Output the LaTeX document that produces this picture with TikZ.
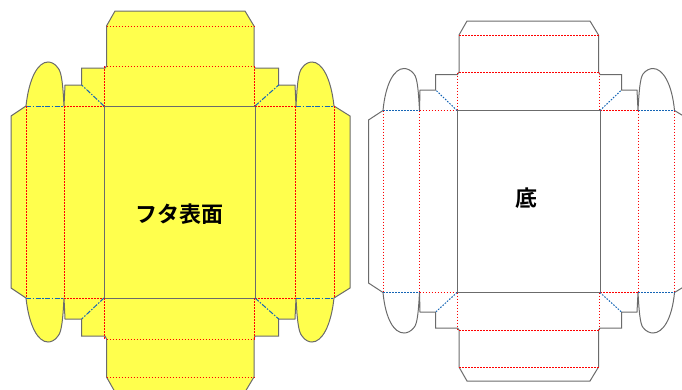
\documentclass[tikz,border=0pt]{standalone}
\usepackage{fontspec}
\newfontfamily\jpfont{Noto Sans CJK JP}[BoldFont={Noto Sans CJK JP Bold}]
\begin{document}
\begin{tikzpicture}[x=1pt,y=-1pt,
    cut line/.style={draw=black!58,line width=1pt,line join=miter},
    lid fill/.style={fill=lidyellow},
    red fold/.style={draw=red,line width=1pt,dash pattern=on 1.5pt off 1.5pt},
    blue fold/.style={draw=foldblue,line width=1pt,dash pattern=on 5pt off 1.5pt on 1.5pt off 1.5pt},
    blue dots/.style={draw=foldblue,line width=1pt,dash pattern=on 1.5pt off 1.5pt},
    box label/.style={font=\jpfont\bfseries\fontsize{22}{22}\selectfont,text=black,inner sep=0pt}]
    \definecolor{lidyellow}{HTML}{FFFF4D}
    \definecolor{foldblue}{HTML}{1565B5}
    \useasboundingbox (0,0) rectangle (682,389);
    \clip (0,0) rectangle (682,389);
    % lid
    \path[cut line,lid fill] (115,11) -- (245,11) -- (254,26) -- (254,66) -- (255,68) -- (278.7,68) -- (278.7,85)
        -- (295,85) -- (296,106) .. controls (297,88) and (298,72) .. (302,68)
        .. controls (305,63.5) and (309,62) .. (312,62) .. controls (322,62) and (331,78) .. (334,106)
        -- (350,116) -- (350,288) -- (334,298) .. controls (331,326) and (322,342) .. (312,342)
        .. controls (309,342) and (305,340.5) .. (302,336) .. controls (298,332) and (297,316) .. (296,298)
        -- (295,319) -- (278.7,319) -- (278.7,336) -- (255,336) -- (254,339) -- (254,377) -- (245,392)
        -- (115,392) -- (106.5,377) -- (106.5,339) -- (105,336) -- (81.7,336) -- (81.7,319) -- (65,319) -- (64,298)
        .. controls (63,316) and (62,332) .. (58,336) .. controls (55,340.5) and (51,342) .. (48,342)
        .. controls (38,342) and (29,326) .. (26,298) -- (11,288) -- (11,116) -- (26,106)
        .. controls (29,78) and (38,62) .. (48,62) .. controls (51,62) and (55,63.5) .. (58,68)
        .. controls (62,72) and (63,88) .. (64,106) -- (65,85) -- (81.7,85) -- (81.7,68) -- (105,68) -- (106.5,66)
        -- (106.5,26) -- cycle;
    \draw[cut line] (104,106) rectangle (255,298);
    \foreach \y in {106,298} {
        \draw[red fold] (64,\y) -- (104,\y);
        \draw[red fold] (255,\y) -- (296,\y);
        \draw[blue fold] (26,\y) -- (64,\y);
        \draw[blue fold] (296,\y) -- (334,\y);
    }
    \foreach \y in {26.5,66,339,377} {
        \draw[red fold] (106.5,\y) -- (254,\y);
    }
    \foreach \x in {26,64,295.5,334} {
        \draw[red fold] (\x,106) -- (\x,298);
    }
    \foreach \x in {104.5,254.5} {
        \draw[red fold] (\x,66) -- (\x,106);
        \draw[red fold] (\x,298) -- (\x,339);
    }
    \draw[blue fold] (104,106) -- (81.7,85);
    \draw[blue fold] (255,106) -- (278.7,85);
    \draw[blue fold] (104,298) -- (81.7,319);
    \draw[blue fold] (255,298) -- (278.7,319);
    \node[box label] (lid) at (179.5,214) {フタ表面};
    % bottom
    \path[cut line] (467,21) -- (590,21) -- (598.5,35) -- (598.5,72) -- (600,74.5) -- (621.5,74.5) -- (621.5,90)
        -- (637,90) -- (638,110.5) .. controls (639,92) and (640,78) .. (643,74)
        .. controls (646,70) and (650,68.5) .. (653,68.5) .. controls (663,68.5) and (672,84) .. (674.5,110.5)
        -- (690,120) -- (690,283) -- (674.5,292.5) .. controls (672,319) and (663,333) .. (653,333)
        .. controls (650,333) and (646,331.5) .. (643,327.5) .. controls (640,324) and (639,310) .. (638,292.5)
        -- (637,312) -- (621.5,312) -- (621.5,328) -- (600,328) -- (598.5,330) -- (598.5,367) -- (590,381)
        -- (467,381) -- (459,367) -- (459,330) -- (457.5,328) -- (435.7,328) -- (435.7,312) -- (420,312) -- (419.5,292.5)
        .. controls (418.5,310) and (417.5,324) .. (414,327.5) .. controls (411,331.5) and (407,333) .. (404,333)
        .. controls (394,333) and (385.5,319) .. (383,292.5) -- (368.5,283) -- (368.5,120) -- (383,110.5)
        .. controls (385.5,84) and (394,68.5) .. (404,68.5) .. controls (407,68.5) and (411,70) .. (414,74)
        .. controls (417.5,78) and (418.5,92) .. (419.5,110.5) -- (420,90) -- (435.7,90) -- (435.7,74.5) -- (457.5,74.5) -- (459,72)
        -- (459,35) -- cycle;
    \draw[cut line] (457,110.5) rectangle (600,292.5);
    \foreach \y in {110.5,292.5} {
        \draw[red fold] (419.5,\y) -- (457,\y);
        \draw[red fold] (600,\y) -- (638,\y);
        \draw[blue dots] (383,\y) -- (419.5,\y);
        \draw[blue dots] (638,\y) -- (674.5,\y);
    }
    \foreach \y in {35.5,72.5,330,367} {
        \draw[red fold] (459,\y) -- (598.5,\y);
    }
    \foreach \x in {383,419,638,674.5} {
        \draw[red fold] (\x,110.5) -- (\x,292.5);
    }
    \foreach \x in {457.5,599} {
        \draw[red fold] (\x,72.5) -- (\x,110.5);
        \draw[red fold] (\x,292.5) -- (\x,330);
    }
    \draw[blue dots] (457,110.5) -- (435.7,90);
    \draw[blue dots] (600,110.5) -- (621.5,90);
    \draw[blue dots] (457,292.5) -- (435.7,312);
    \draw[blue dots] (600,292.5) -- (621.5,312);
    \node[box label] (base) at (526,198) {底};
\end{tikzpicture}
\end{document}
